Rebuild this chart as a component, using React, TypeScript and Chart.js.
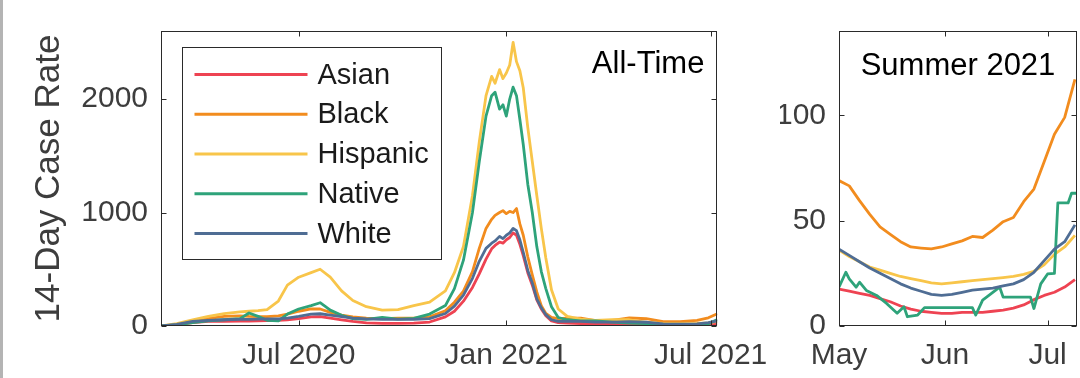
import React, { useEffect, useRef } from 'react';
import { Chart, registerables } from 'chart.js';

Chart.register(...registerables);

// ---------- data ----------
const seriesNames = ['Asian', 'Black', 'Hispanic', 'Native', 'White'];
const seriesColors = ['#ee4352', '#f28c1e', '#f8c54a', '#2ea37a', '#4f6d94'];

// days since 1 Mar 2020
const allTimeDays = [0, 14, 28, 42, 56, 70, 78, 86, 94, 104, 112, 122, 133, 141, 150, 160, 170, 182, 196, 210, 224, 238, 252, 260, 268, 276, 282, 288, 293, 296, 300, 303, 306, 309, 312, 315, 318, 321, 325, 329, 333, 337, 341, 346, 352, 360, 372, 385, 400, 415, 430, 445, 460, 475, 485, 493];
const asianAll = [0, 10, 30, 40, 42, 44, 44, 45, 47, 50, 55, 65, 80, 82, 70, 55, 40, 28, 23, 23, 25, 35, 80, 130, 219, 340, 460, 590, 680, 710, 740, 730, 760, 780, 820, 800, 720, 620, 470, 360, 230, 150, 90, 45, 30, 25, 22, 20, 18, 18, 16, 9, 6, 8, 14, 20];
const blackAll = [0, 10, 40, 65, 85, 90, 85, 82, 82, 90, 105, 130, 150, 150, 120, 95, 80, 70, 65, 70, 70, 80, 135, 210, 307, 480, 684, 860, 940, 975, 1000, 1017, 990, 1010, 1000, 1035, 900, 800, 610, 450, 300, 180, 110, 75, 65, 70, 70, 48, 50, 72, 64, 39, 39, 50, 72, 108];
const hispanicAll = [0, 20, 55, 85, 110, 125, 130, 135, 145, 220, 360, 430, 470, 500, 430, 310, 225, 170, 140, 145, 180, 210, 310, 470, 700, 1150, 1620, 2030, 2200, 2140, 2260, 2180, 2230, 2300, 2500, 2330, 2250, 2100, 1750, 1450, 1150, 860, 600, 320, 150, 85, 60, 50, 55, 55, 32, 23, 20.5, 23, 28, 40];
const nativeAll = [0, 10, 30, 45, 55, 65, 115, 85, 50, 45, 105, 150, 180, 205, 140, 95, 65, 58, 75, 60, 68, 105, 180, 330, 580, 1000, 1447, 1850, 2030, 2061, 1912, 1950, 1850, 2000, 2105, 2030, 1820, 1600, 1250, 1000, 700, 480, 330, 170, 75, 55, 45, 45, 35, 25, 22, 9, 8.7, 13.7, 20, 58];
const whiteAll = [0, 15, 40, 50, 55, 58, 58, 60, 62, 63, 70, 85, 105, 108, 95, 82, 70, 62, 58, 58, 58, 65, 110, 175, 272, 420, 570, 684, 730, 750, 790, 770, 800, 820, 860, 840, 760, 650, 490, 380, 240, 160, 100, 55, 40, 40, 40, 35, 35, 38, 33, 19.5, 15.5, 19.5, 29, 45];

const allTimeTickDays = [122, 306, 487];
const allTimeTickLabels = ['Jul 2020', 'Jan 2021', 'Jul 2021'];
const allTimeYTicks = [0, 1000, 2000];

// days since 1 May 2021
const summerDays = [0, 3, 6, 9, 12, 15, 18, 21, 24, 27, 30, 33, 36, 39, 42, 45, 48, 51, 54, 57, 60, 63, 66, 69];
const asianSummer = [17.5, 16.5, 15.5, 14.5, 13, 11.5, 9.5, 8, 7, 6.5, 6, 6, 6.5, 6.5, 6.5, 7, 7.5, 8.5, 10, 12.5, 14.5, 16, 18.5, 22];
const blackSummer = [69, 66.5, 59.5, 53, 47, 43.5, 40, 37.5, 37, 36.6, 37.5, 39, 40.4, 42.5, 42, 45.5, 49.5, 51.5, 59, 65, 78, 91, 99, 117];
const hispanicSummer = [36, 33, 30.5, 28, 26.5, 25, 23.5, 22.5, 21.5, 20.5, 20, 20.5, 21, 21.5, 22, 22.5, 23, 23.5, 24.5, 26, 29, 34, 37.5, 43];
const whiteSummer = [36.5, 33.5, 30.5, 27.5, 25, 22.5, 20, 18, 16.5, 15, 14.5, 15, 16, 17, 17.5, 18, 19, 20, 22, 25.5, 31, 36.5, 40, 48];
const nativeSummerDays = [0, 2, 3, 5, 6, 8, 11, 14, 17, 19, 20, 23, 25, 39, 40, 42, 47, 48, 56, 57, 59, 61, 63, 64, 67, 68, 70];
const nativeSummer = [18.4, 25.5, 22.4, 18.4, 20.8, 16.9, 14.5, 10.6, 6, 9.1, 4.4, 5.2, 8.7, 8.7, 5.2, 12.3, 18.4, 13.7, 13.7, 8.3, 20, 24.7, 25, 58.4, 58.4, 63, 63];

const summerTickDays = [0, 31, 61];
const summerTickLabels = ['May', 'Jun', 'Jul'];
const summerYTicks = [0, 50, 100];

// ---------- styling ----------
const FONT = "'Liberation Sans', Arial, Helvetica, sans-serif";
const TICK_COLOR = '#3d3d3d';
const AXIS_COLOR = '#2a2a2a';

const zip = (xs: number[], ys: number[]) => xs.map((x, i) => ({ x, y: ys[i] }));

const boxPlugin = {
  id: 'matlabBox',
  afterDraw(chart: any, _args: any, opts: any) {
    const { ctx, chartArea: a, scales } = chart;
    ctx.save();
    ctx.strokeStyle = AXIS_COLOR;
    ctx.lineWidth = 1;
    const L = Math.round(a.left) + 0.5;
    const R = Math.round(a.right) - 0.5;
    const T = Math.round(a.top) + 0.5;
    const B = Math.round(a.bottom) - 0.5;
    const len = 5;
    ctx.beginPath();
    for (const t of scales.x.ticks) {
      const px = Math.round(scales.x.getPixelForValue(t.value)) + 0.5;
      ctx.moveTo(px, B); ctx.lineTo(px, B - len);
      ctx.moveTo(px, T); ctx.lineTo(px, T + len);
    }
    for (const t of scales.y.ticks) {
      const py = Math.round(scales.y.getPixelForValue(t.value)) + 0.5;
      ctx.moveTo(L, py); ctx.lineTo(L + len, py);
      ctx.moveTo(R, py); ctx.lineTo(R - len, py);
    }
    ctx.stroke();
    ctx.strokeRect(L, T, R - L, B - T);

    if (opts && opts.label) {
      ctx.fillStyle = '#000';
      ctx.font = `${opts.labelSize}px ${FONT}`;
      ctx.textBaseline = 'alphabetic';
      if (opts.labelAlign === 'right') {
        ctx.textAlign = 'right';
        ctx.fillText(opts.label, a.right - opts.labelInset, a.top + opts.labelBaseline);
      } else {
        ctx.textAlign = 'center';
        ctx.fillText(opts.label, (a.left + a.right) / 2, a.top + opts.labelBaseline);
      }
    }
    ctx.restore();
  },
};

const legendPlugin = {
  id: 'matlabLegend',
  afterDraw(chart: any, _args: any, opts: any) {
    if (!opts || !opts.show) return;
    const { ctx, chartArea: a } = chart;
    const bx = Math.round(a.left + 21) + 0.5;
    const by = Math.round(a.top + 16) + 0.5;
    const bw = 259;
    const bh = 212;
    ctx.save();
    ctx.fillStyle = '#fff';
    ctx.fillRect(bx, by, bw, bh);
    ctx.strokeStyle = AXIS_COLOR;
    ctx.lineWidth = 1;
    ctx.strokeRect(bx, by, bw, bh);
    ctx.font = `29px ${FONT}`;
    ctx.textBaseline = 'middle';
    ctx.textAlign = 'left';
    chart.data.datasets.forEach((ds: any, i: number) => {
      const y = by + 27 + i * 39.75;
      ctx.strokeStyle = ds.borderColor;
      ctx.lineWidth = 3;
      ctx.beginPath();
      ctx.moveTo(bx + 12, y);
      ctx.lineTo(bx + 125, y);
      ctx.stroke();
      ctx.fillStyle = '#1a1a1a';
      ctx.fillText(ds.label, bx + 135, y + 1);
    });
    ctx.restore();
  },
};

function makeConfig(p: {
  datasets: { x: number[]; y: number[] }[];
  xMin: number; xMax: number; yMax: number;
  xTicks: number[]; xLabels: string[]; yTicks: number[];
  yWidth: number; padRight: number; padTop: number;
  title?: string; label: string; labelAlign: string; labelInset: number; labelBaseline: number;
  legend: boolean;
}) {
  return {
    type: 'line' as const,
    data: {
      datasets: p.datasets.map((d, i) => ({
        label: seriesNames[i],
        data: zip(d.x, d.y),
        borderColor: seriesColors[i],
        backgroundColor: seriesColors[i],
        borderWidth: 2.8,
        pointRadius: 0,
        tension: 0,
        fill: false,
        borderJoinStyle: 'round' as const,
        order: seriesNames.length - i,
      })),
    },
    options: {
      animation: false as const,
      responsive: false,
      maintainAspectRatio: false,
      events: [] as any[],
      layout: { padding: { left: 0, right: p.padRight, top: p.padTop, bottom: 0 } },
      plugins: {
        legend: { display: false },
        tooltip: { enabled: false },
        matlabBox: { label: p.label, labelAlign: p.labelAlign, labelInset: p.labelInset, labelBaseline: p.labelBaseline, labelSize: 31 },
        matlabLegend: { show: p.legend },
      },
      scales: {
        x: {
          type: 'linear' as const,
          min: p.xMin,
          max: p.xMax,
          grid: { display: false, drawTicks: false },
          border: { display: false },
          afterBuildTicks: (s: any) => { s.ticks = p.xTicks.map((v) => ({ value: v })); },
          afterFit: (s: any) => { s.height = 52; },
          ticks: {
            autoSkip: false,
            maxRotation: 0,
            padding: 12,
            color: TICK_COLOR,
            font: { family: FONT, size: 30 },
            callback: (v: any) => {
              const i = p.xTicks.indexOf(Number(v));
              return i >= 0 ? p.xLabels[i] : '';
            },
          },
        },
        y: {
          type: 'linear' as const,
          min: 0,
          max: p.yMax,
          grid: { display: false, drawTicks: false },
          border: { display: false },
          afterBuildTicks: (s: any) => { s.ticks = p.yTicks.map((v) => ({ value: v })); },
          afterFit: (s: any) => { s.width = p.yWidth; },
          ticks: {
            padding: 13,
            color: TICK_COLOR,
            font: { family: FONT, size: 30 },
            callback: (v: any) => String(v),
          },
          title: p.title
            ? { display: true, text: p.title, color: TICK_COLOR, font: { family: FONT, size: 35 }, padding: { top: 28, bottom: 0 } }
            : { display: false },
        },
      },
    },
    plugins: [boxPlugin, legendPlugin],
  };
}

function ChartCanvas({ config, left, width }: { config: any; left: number; width: number }) {
  const ref = useRef<HTMLCanvasElement | null>(null);
  useEffect(() => {
    if (!ref.current) return;
    const chart = new Chart(ref.current, config);
    return () => chart.destroy();
  }, [config]);
  return (
    <canvas
      ref={ref}
      width={width}
      height={378}
      style={{ position: 'absolute', left, top: 0, width, height: 378, display: 'block' }}
    />
  );
}

const allTimeConfig = makeConfig({
  datasets: [
    { x: allTimeDays, y: asianAll },
    { x: allTimeDays, y: blackAll },
    { x: allTimeDays, y: hispanicAll },
    { x: allTimeDays, y: nativeAll },
    { x: allTimeDays, y: whiteAll },
  ],
  xMin: 0, xMax: 493, yMax: 2600,
  xTicks: allTimeTickDays, xLabels: allTimeTickLabels, yTicks: allTimeYTicks,
  yWidth: 161, padRight: 57, padTop: 30,
  title: '14-Day Case Rate',
  label: 'All-Time', labelAlign: 'right', labelInset: 13, labelBaseline: 42,
  legend: true,
});

const summerConfig = makeConfig({
  datasets: [
    { x: summerDays, y: asianSummer },
    { x: summerDays, y: blackSummer },
    { x: summerDays, y: hispanicSummer },
    { x: nativeSummerDays, y: nativeSummer },
    { x: summerDays, y: whiteSummer },
  ],
  xMin: 0, xMax: 69.6, yMax: 140,
  xTicks: summerTickDays, xLabels: summerTickLabels, yTicks: summerYTicks,
  yWidth: 59, padRight: 3, padTop: 28,
  label: 'Summer 2021', labelAlign: 'center', labelInset: 0, labelBaseline: 44,
  legend: false,
});

export default function App() {
  return (
    <div style={{ position: 'absolute', left: 0, top: 0, width: 1080, height: 378, background: '#fff', overflow: 'hidden' }}>
      <ChartCanvas config={allTimeConfig} left={0} width={780} />
      <ChartCanvas config={summerConfig} left={780} width={300} />
      <div style={{ position: 'absolute', left: 0, top: 0, width: 3, height: 378, background: '#b4b4b4' }} />
    </div>
  );
}
